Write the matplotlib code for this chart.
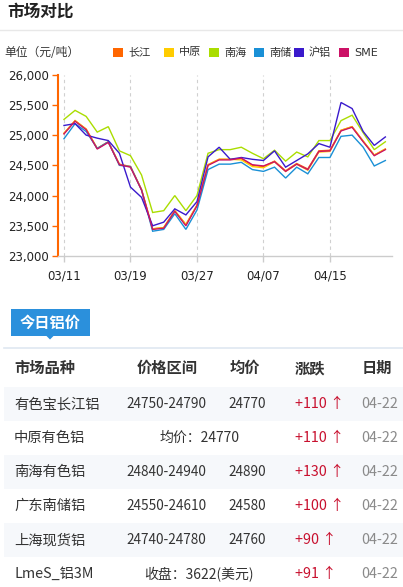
import matplotlib
matplotlib.use("Agg")
import matplotlib.pyplot as plt
from matplotlib.patches import Rectangle, Polygon
from matplotlib.lines import Line2D
from matplotlib.ticker import FuncFormatter

CJK = ['Noto Sans CJK SC', 'DejaVu Sans']
LAT = ['DejaVu Sans', 'Noto Sans CJK SC']
plt.rcParams['font.family'] = LAT

# ---------------- data ----------------
series_names = ['长江', '中原', '南海', '南储', '沪铝', 'SME']
series_colors = ['#FF6600', '#FFCC00', '#AADD00', '#1A90D6', '#3A1ACC', '#CC1166']

changjiang = [25030, 25240, 25100, 24780, 24890, 24520, 24480, 24100, 23450, 23470,
              23750, 23520, 23840, 24510, 24600, 24600, 24610, 24500, 24480, 24570,
              24410, 24530, 24440, 24740, 24750, 25080, 25140, 24900, 24670, 24770]
zhongyuan = [25030, 25240, 25100, 24780, 24890, 24510, 24480, 24100, 23450, 23470,
             23750, 23520, 23840, 24510, 24600, 24600, 24590, 24480, 24460, 24560,
             24400, 24520, 24420, 24720, 24730, 25080, 25140, 24900, 24670, 24770]
nanhai = [25260, 25410, 25310, 25050, 25140, 24740, 24660, 24340, 23720, 23750,
          24000, 23750, 24000, 24700, 24760, 24760, 24800, 24700, 24610, 24750,
          24570, 24720, 24640, 24910, 24910, 25240, 25330, 25040, 24760, 24890]
nanchu = [24940, 25190, 25060, 24780, 24890, 24500, 24480, 24090, 23410, 23440,
          23700, 23440, 23760, 24430, 24520, 24520, 24550, 24430, 24400, 24470,
          24290, 24470, 24360, 24630, 24630, 24980, 25000, 24800, 24490, 24580]
hulv = [25160, 25190, 25000, 24950, 24910, 24700, 24140, 23970, 23500, 23560,
        23780, 23680, 23900, 24640, 24800, 24600, 24630, 24600, 24580, 24740,
        24470, 24580, 24690, 24860, 24800, 25540, 25440, 25060, 24830, 24970]
sme = [25020, 25230, 25090, 24770, 24880, 24510, 24470, 24090, 23440, 23460,
       23740, 23500, 23830, 24500, 24590, 24590, 24620, 24510, 24490, 24560,
       24400, 24520, 24430, 24730, 24740, 25070, 25130, 24890, 24660, 24760]
series_values = [changjiang, zhongyuan, nanhai, nanchu, hulv, sme]

xtick_pos = [0, 6, 12, 18, 24]
xtick_labels = ['03/11', '03/19', '03/27', '04/07', '04/15']
ytick_vals = [23000, 23500, 24000, 24500, 25000, 25500, 26000]

tbl_header = ['市场品种', '价格区间', '均价', '涨跌', '日期']
tbl_names = ['有色宝长江铝', '中原有色铝', '南海有色铝', '广东南储铝', '上海现货铝', 'LmeS_铝3M']
tbl_range = ['24750-24790', '均价：24770', '24840-24940', '24550-24610', '24740-24780', '收盘：3622(美元)']
tbl_avg = ['24770', None, '24890', '24580', '24760', None]
tbl_change = ['+110', '+110', '+130', '+100', '+90', '+91']
tbl_date = ['04-22', '04-22', '04-22', '04-22', '04-22', '04-22']

# ---------------- figure ----------------
W, H = 403, 587
fig = plt.figure(figsize=(W / 100, H / 100), dpi=100)
fig.patch.set_facecolor('white')


def fx(x):
    return x / W


def fy(y):
    return 1 - y / H


# title
fig.text(fx(7), fy(12), '市场对比', fontsize=12, fontweight='bold', va='center',
         ha='left', color='#222222', family=CJK)
fig.add_artist(Line2D([0, 1], [fy(30), fy(30)], color='#e8e8e8', lw=1,
                      transform=fig.transFigure))
fig.text(fx(4), fy(52), '单位（元/吨）', fontsize=8.5, va='center', ha='left',
         color='#333333', family=CJK)

# legend
sq_x = [113, 164, 209, 254, 294, 339]
for i, (name, col) in enumerate(zip(series_names, series_colors)):
    fig.add_artist(Rectangle((fx(sq_x[i]), fy(57)), 10 / W, 9.5 / H,
                             transform=fig.transFigure, facecolor=col,
                             edgecolor='none'))
    fig.text(fx(sq_x[i] + 15), fy(52.5), name, fontsize=8, va='center', ha='left',
             color='#333333', family=LAT)

# chart axes
ax_top, ax_bot, ax_l, ax_r = 74.7, 256, 58, 392
ax = fig.add_axes([fx(ax_l), fy(ax_bot), (ax_r - ax_l) / W, (ax_bot - ax_top) / H])
for vals, col in zip(series_values, series_colors):
    ax.plot(range(len(vals)), vals, color=col, lw=1.0, solid_joinstyle='miter')

ax.set_xlim(-0.54, 29.6)
ax.set_ylim(23000, 26000)
ax.set_yticks(ytick_vals)
ax.yaxis.set_major_formatter(FuncFormatter(lambda v, p: f'{int(v):,}'))
ax.set_xticks(xtick_pos)
ax.set_xticklabels(xtick_labels)
for s in ['top', 'right']:
    ax.spines[s].set_visible(False)
ax.spines['left'].set_color('#FF6600')
ax.spines['left'].set_linewidth(1.5)
ax.spines['bottom'].set_color('#cccccc')
ax.spines['bottom'].set_linewidth(1)
ax.tick_params(axis='y', colors='#FF6600', length=4.5, width=1, pad=2,
               labelsize=8.5, labelcolor='#222222')
ax.tick_params(axis='x', colors='#cccccc', length=4, width=1, pad=6,
               labelsize=8.5, labelcolor='#222222')
ax.xaxis.grid(True, linestyle=(0, (3, 3)), color='#d0d0d0', lw=0.8)
ax.set_facecolor('white')

# ---------------- table section ----------------
# tab
fig.add_artist(Rectangle((fx(11), fy(336)), 79 / W, 27 / H, transform=fig.transFigure,
                         facecolor='#2b90dc', edgecolor='none'))
fig.add_artist(Polygon([(fx(46), fy(335.5)), (fx(54), fy(335.5)), (fx(50), fy(339.5))],
                       closed=True, transform=fig.transFigure, facecolor='#2b90dc',
                       edgecolor='none'))
fig.text(fx(50.5), fy(322.5), '今日铝价', fontsize=11, fontweight='bold', color='white',
         ha='center', va='center', family=CJK)
fig.add_artist(Line2D([fx(4), 1], [fy(348.3), fy(348.3)], color='#dfe7f1', lw=1.2,
                      transform=fig.transFigure))

# header
hy = 368
fig.text(fx(14), fy(hy), tbl_header[0], fontsize=11, fontweight='bold', color='#333333',
         ha='left', va='center', family=CJK)
fig.text(fx(167), fy(hy), tbl_header[1], fontsize=11, fontweight='bold', color='#333333',
         ha='center', va='center', family=CJK)
fig.text(fx(244.5), fy(hy), tbl_header[2], fontsize=11, fontweight='bold', color='#333333',
         ha='center', va='center', family=CJK)
fig.text(fx(295), fy(hy), tbl_header[3], fontsize=11, fontweight='bold', color='#333333',
         ha='left', va='center', family=CJK)
fig.text(fx(362), fy(hy), tbl_header[4], fontsize=11, fontweight='bold', color='#333333',
         ha='left', va='center', family=CJK)

row_top = 387.3
row_h = 34
for i in range(len(tbl_names)):
    y0 = row_top + i * row_h
    yc = y0 + row_h / 2
    if i % 2 == 0:
        fig.add_artist(Rectangle((fx(4), fy(y0 + row_h)), (W - 4) / W, row_h / H,
                                 transform=fig.transFigure, facecolor='#f6f8fb',
                                 edgecolor='none', zorder=0))
    fig.text(fx(14), fy(yc), tbl_names[i], fontsize=10.3, color='#333333',
             ha='left', va='center', family=CJK)
    if tbl_avg[i] is None:
        fig.text(fx(199), fy(yc), tbl_range[i], fontsize=10, color='#333333',
                 ha='center', va='center', family=CJK)
    else:
        fig.text(fx(166), fy(yc), tbl_range[i], fontsize=9.8, color='#333333',
                 ha='center', va='center', family=CJK)
        fig.text(fx(247), fy(yc), tbl_avg[i], fontsize=9.8, color='#333333',
                 ha='center', va='center', family=CJK)
    fig.text(fx(295), fy(yc), tbl_change[i] + ' ↑', fontsize=10.3, color='#c8102e',
             ha='left', va='center', family=CJK)
    fig.text(fx(361), fy(yc), tbl_date[i], fontsize=10.3, color='#8a8a8a',
             ha='left', va='center', family=CJK)

fig.savefig('out.png', dpi=100, facecolor='white')
